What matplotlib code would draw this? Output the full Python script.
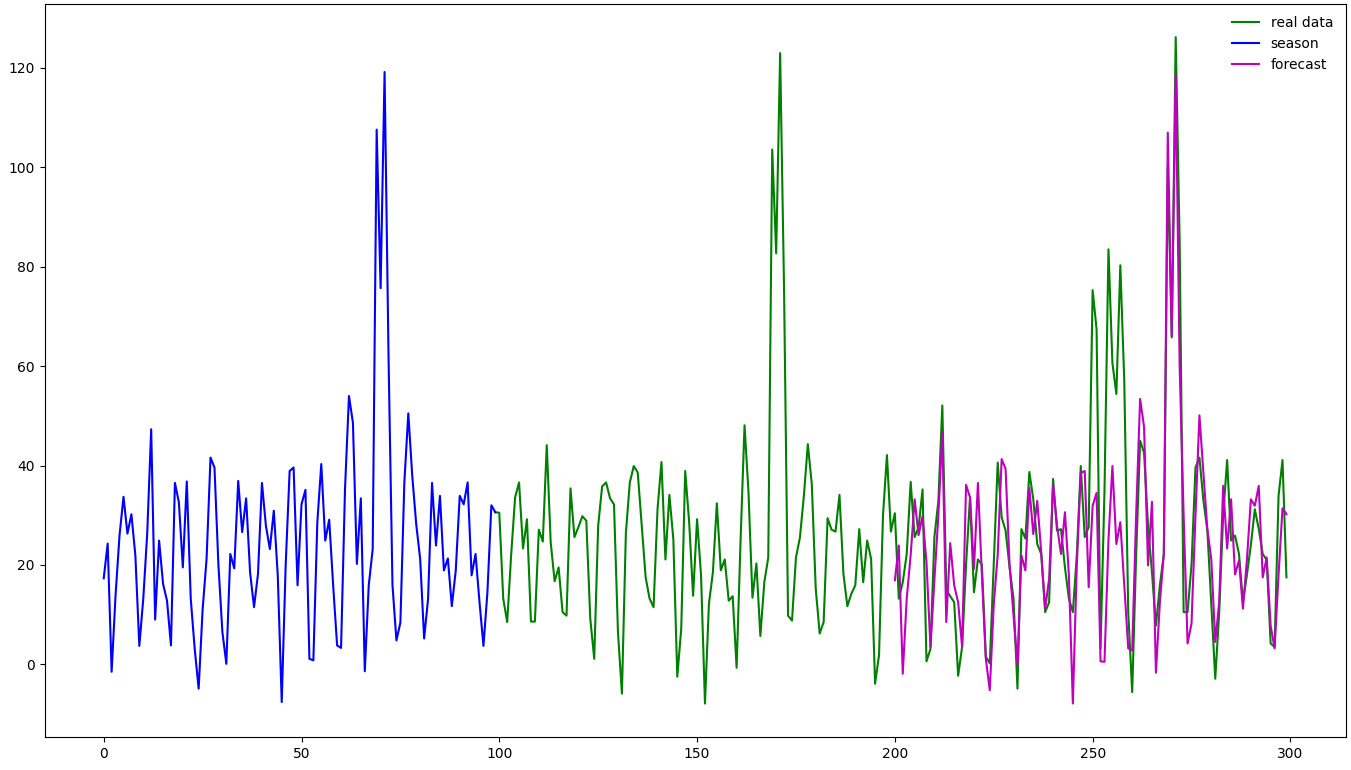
import numpy as np
import matplotlib.pyplot as plt

# season part (index 0..99)
season = [17.3, 24.3, -1.5, 14, 26, 33.7, 26.3, 30.2, 21.9, 3.7,
          13.2, 26.4, 47.3, 9.0, 24.9, 16.2, 12.8, 3.8, 36.5, 32.6,
          19.5, 36.8, 13.2, 3.1, -4.9, 11, 21.2, 41.6, 39.6, 19.9,
          6.5, 0.1, 22.2, 19.3, 36.9, 26.6, 33.4, 18.5, 11.5, 18.2,
          36.5, 27.9, 23.2, 30.9, 17.9, -7.6, 20, 38.9, 39.6, 15.9,
          32.2, 35.1, 1.1, 0.8, 28.6, 40.3, 24.9, 29.1, 15.9, 3.8,
          3.3, 35.3, 54.0, 48.6, 20.2, 33.4, -1.4, 15.9, 23.2, 107.6,
          75.7, 119.2, 62, 15.9, 4.8, 8.4, 36.6, 50.5, 37.9, 28.2,
          21.2, 5.2, 13.2, 36.5, 23.9, 33.9, 18.9, 21.3, 11.7, 18.9,
          33.9, 32.2, 36.6, 17.9, 22.2, 12.5, 3.7, 14.5, 32.0, 30.6]

# real data (index 99..299)
real = [30.6,
        30.5, 13.2, 8.5, 22, 33.6, 36.6, 23.3, 29.2, 8.6, 8.6,
        27.1, 24.7, 44.1, 24.5, 16.7, 19.5, 10.5, 9.8, 35.4, 25.6,
        27.6, 29.8, 28.9, 9.2, 1.1, 27.9, 35.8, 36.6, 33.4, 32.2,
        6.5, -5.9, 26.4, 36.6, 39.9, 38.6, 27.9, 17.5, 13.2, 11.5,
        31.2, 40.7, 21.1, 34.1, 25.2, -2.5, 7.2, 38.9, 28.6, 13.8,
        29.2, 18, -7.9, 12.2, 18.5, 32.4, 18.9, 21.1, 12.8, 13.7,
        -0.7, 25, 48.1, 34.6, 13.4, 20.3, 5.7, 16.5, 21.5, 103.6,
        82.7, 123, 75, 9.8, 8.8, 21.5, 25.5, 33.9, 44.3, 36.3,
        15.2, 6.2, 8.5, 29.4, 27.1, 26.7, 34.1, 18.2, 11.7, 14.2,
        15.9, 27.2, 16.5, 24.9, 21.2, -3.9, 1.8, 29.9, 42.1, 26.7,
        30.4, 13.2, 16.5, 22.2, 36.7, 25.6, 27.5, 35.2, 0.6, 3.1,
        25.6, 32.9, 52.1, 15, 13.7, 12.5, -2.3, 3.5, 20, 33.6,
        14.5, 21.1, 20.1, 1.5, 0.2, 20.1, 40.6, 29.6, 26.9, 19.5,
        13.2, -4.9, 27.2, 25.3, 38.7, 33.2, 24.2, 22.2, 10.5, 12.5,
        37.3, 26.9, 27.2, 19.5, 13.2, 10.5, 22, 39.9, 25.6, 27.6,
        75.3, 67.4, 3.2, 35, 83.5, 60.6, 54.4, 80.3, 57, 10.5,
        -5.6, 22, 45.0, 42.6, 28, 18.5, 7.8, 15.9, 22.2, 100,
        65.8, 126.2, 85, 10.5, 10.5, 20, 39.6, 41.6, 33, 27,
        12, -2.9, 10.5, 30, 41.1, 24.9, 25.9, 22.2, 12.5, 18,
        24, 31.2, 27.2, 22.2, 21, 4.2, 3.5, 33.9, 41.1, 17.5]

# forecast (index 200..299)
forecast = [16.9, 23.9, -1.9, 13.2, 22, 33.2, 26.0, 29.8, 20.5, 3.5,
            17, 30, 46.6, 8.5, 24.4, 15.9, 12.5, 3.5, 36.1, 33.6,
            19.2, 36.5, 18, 1.1, -5.2, 12, 22, 41.3, 39.3, 20,
            9.8, -0.2, 21.9, 18.9, 35.5, 26.2, 32.9, 22.6, 11.2, 17.2,
            36.1, 27.9, 22.2, 30.6, 17.9, -7.9, 20, 38.5, 38.9, 15.5,
            31.9, 34.5, 0.6, 0.5, 25, 39.9, 24.2, 28.6, 15.9, 3.2,
            2.8, 30, 53.4, 47.8, 19.9, 32.7, -1.7, 12.5, 22.2, 107,
            66, 118.6, 60, 30, 4.2, 8.2, 30, 50.1, 38.6, 27.2,
            21.1, 4.5, 12.5, 35.9, 23.3, 33.2, 18.1, 20.9, 11.2, 21,
            33.2, 31.9, 35.9, 17.5, 21.5, 7.8, 3.2, 18, 31.4, 30.2]

x_season = np.arange(0, 100)
x_real = np.arange(99, 300)
x_fc = np.arange(200, 300)

plt.figure(figsize=(13.51, 7.70), dpi=100)
plt.plot(x_real, real, color='g', label='real data')
plt.plot(x_season, season, color='b', label='season')
plt.plot(x_fc, forecast, color='m', label='forecast')
plt.legend(loc='upper right', frameon=False)
plt.subplots_adjust(left=0.033, right=0.996, top=0.995, bottom=0.043)
plt.savefig('out.png', dpi=100)
